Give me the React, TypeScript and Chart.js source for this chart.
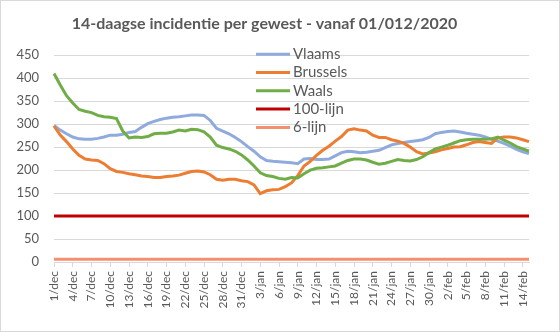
import React, { useEffect, useRef } from "react";
import { Chart, registerables } from "chart.js";

Chart.register(...registerables);

const TITLE = "14-daagse incidentie per gewest - vanaf 01/012/2020";

const DATES: string[] = [
  "1/dec", "2/dec", "3/dec", "4/dec", "5/dec", "6/dec", "7/dec", "8/dec", "9/dec", "10/dec",
  "11/dec", "12/dec", "13/dec", "14/dec", "15/dec", "16/dec", "17/dec", "18/dec", "19/dec", "20/dec",
  "21/dec", "22/dec", "23/dec", "24/dec", "25/dec", "26/dec", "27/dec", "28/dec", "29/dec", "30/dec",
  "31/dec", "1/jan", "2/jan", "3/jan", "4/jan", "5/jan", "6/jan", "7/jan", "8/jan", "9/jan",
  "10/jan", "11/jan", "12/jan", "13/jan", "14/jan", "15/jan", "16/jan", "17/jan", "18/jan", "19/jan",
  "20/jan", "21/jan", "22/jan", "23/jan", "24/jan", "25/jan", "26/jan", "27/jan", "28/jan", "29/jan",
  "30/jan", "31/jan", "1/feb", "2/feb", "3/feb", "4/feb", "5/feb", "6/feb", "7/feb", "8/feb",
  "9/feb", "10/feb", "11/feb", "12/feb", "13/feb", "14/feb", "15/feb",
];

const VLAAMS: number[] = [
  297, 287, 279, 272, 268, 267, 267, 269, 272, 276,
  276, 278, 282, 284, 293, 301, 306, 310, 313, 315,
  316, 318, 320, 320, 319, 308, 291, 285, 279, 271,
  262, 251, 241, 229, 221, 219, 218, 217, 216, 214,
  224, 225, 223, 223, 224, 231, 238, 241, 240, 238,
  239, 241, 243, 249, 255, 258, 260, 262, 264, 266,
  271, 279, 282, 284, 285, 283, 280, 278, 276, 272,
  267, 263, 258, 252, 245, 240, 236,
];

const BRUSSELS: number[] = [
  296, 276, 262, 246, 232, 224, 222, 221, 214, 203,
  197, 195, 192, 190, 187, 186, 184, 184, 186, 187,
  189, 193, 197, 198, 196, 190, 180, 178, 180, 180,
  177, 175, 168, 149, 155, 157, 158, 164, 172, 188,
  209, 219, 232, 243, 252, 263, 273, 287, 290, 287,
  285, 276, 271, 271, 266, 263, 258, 250, 240, 235,
  237, 240, 244, 247, 250, 251, 255, 260, 262, 260,
  258, 270, 272, 272, 270, 266, 262,
];

const WAALS: number[] = [
  410, 385, 362, 346, 332, 328, 325, 319, 316, 315,
  312, 285, 270, 272, 271, 273, 279, 280, 280, 283,
  287, 285, 289, 288, 283, 272, 254, 249, 246, 241,
  233, 222, 209, 194, 188, 186, 182, 180, 184, 183,
  192, 200, 204, 205, 207, 209, 215, 221, 224, 224,
  222, 217, 213, 215, 219, 223, 221, 220, 223, 229,
  238, 246, 250, 254, 259, 264, 266, 267, 267, 267,
  268, 272, 265, 259, 251, 246, 241,
];

const LIJN_100: number[] = DATES.map(() => 100);
const LIJN_6: number[] = DATES.map(() => 6);

const SERIES_NAMES = ["Vlaams", "Brussels", "Waals", "100-lijn", "6-lijn"];
const SERIES_COLORS = ["#8FAADC", "#ED7D31", "#70AD47", "#C00000", "#F4906F"];

const Y_TICKS = [0, 50, 100, 150, 200, 250, 300, 350, 400, 450];

const FONT = "Lato, 'Open Sans', sans-serif";
const TEXT_COLOR = "#595959";
const GRID_COLOR = "#D9D9D9";

export default function App() {
  const ref = useRef<HTMLCanvasElement | null>(null);

  useEffect(() => {
    if (!ref.current) return;
    const seriesData = [VLAAMS, BRUSSELS, WAALS, LIJN_100, LIJN_6];

    const bgPlugin = {
      id: "bgBorder",
      beforeDraw(chart: any) {
        const c = chart.ctx;
        c.save();
        c.fillStyle = "#FFFFFF";
        c.fillRect(0, 0, chart.width, chart.height);
        c.strokeStyle = GRID_COLOR;
        c.lineWidth = 1;
        c.strokeRect(0.5, 0.5, chart.width - 1, chart.height - 1);
        c.restore();
      },
    };

    const legendPlugin = {
      id: "insideLegend",
      afterDraw(chart: any) {
        const c = chart.ctx;
        const a = chart.chartArea;
        const x0 = a.left + 202;
        const y0 = a.top - 1;
        const rowH = 18.3;
        c.save();
        c.font = `15px ${FONT}`;
        c.textBaseline = "middle";
        c.textAlign = "left";
        SERIES_NAMES.forEach((name, i) => {
          const y = y0 + i * rowH;
          c.strokeStyle = SERIES_COLORS[i];
          c.lineWidth = 3;
          c.beginPath();
          c.moveTo(x0, y);
          c.lineTo(x0 + 34, y);
          c.stroke();
          c.fillStyle = TEXT_COLOR;
          c.fillText(name, x0 + 37, y);
        });
        c.restore();
      },
    };

    const chart = new Chart(ref.current, {
      type: "line",
      data: {
        labels: DATES,
        datasets: SERIES_NAMES.map((name, i) => ({
          label: name,
          data: seriesData[i],
          borderColor: SERIES_COLORS[i],
          backgroundColor: SERIES_COLORS[i],
          borderWidth: 3,
          pointRadius: 0,
          tension: 0,
          fill: false,
          order: SERIES_NAMES.length - i,
        })),
      },
      options: {
        responsive: false,
        animation: false,
        devicePixelRatio: 1,
        layout: { padding: { left: 0, right: 31, top: 0, bottom: 0 } },
        plugins: {
          legend: { display: false },
          tooltip: { enabled: false },
          title: {
            display: true,
            text: TITLE,
            color: TEXT_COLOR,
            font: { family: FONT, size: 16, weight: "bold" },
            padding: { top: 14, bottom: 22 },
          },
        },
        scales: {
          x: {
            type: "category",
            offset: false,
            grid: {
              drawOnChartArea: false,
              drawTicks: true,
              tickLength: 5,
              color: GRID_COLOR,
            },
            border: { display: true, color: GRID_COLOR, width: 1 },
            ticks: {
              autoSkip: false,
              maxRotation: 90,
              minRotation: 90,
              padding: 4,
              color: TEXT_COLOR,
              font: { family: FONT, size: 12 },
              callback: (_v: any, i: number) => (i % 3 === 0 ? DATES[i] : null),
            },
            afterFit: (s: any) => {
              s.height = 70;
            },
          },
          y: {
            min: 0,
            max: 450,
            afterBuildTicks: (s: any) => {
              s.ticks = Y_TICKS.map((v) => ({ value: v }));
            },
            grid: { color: GRID_COLOR, drawTicks: false, lineWidth: 1 },
            border: { display: false },
            ticks: {
              padding: 15,
              color: TEXT_COLOR,
              font: { family: FONT, size: 13 },
            },
            afterFit: (s: any) => {
              s.width = 54;
            },
          },
        },
      },
      plugins: [bgPlugin, legendPlugin],
    });
    return () => chart.destroy();
  }, []);

  return (
    <div style={{ position: "fixed", left: 0, top: 0, width: 560, height: 332 }}>
      <canvas ref={ref} width={560} height={332} style={{ width: 560, height: 332, display: "block" }} />
    </div>
  );
}
